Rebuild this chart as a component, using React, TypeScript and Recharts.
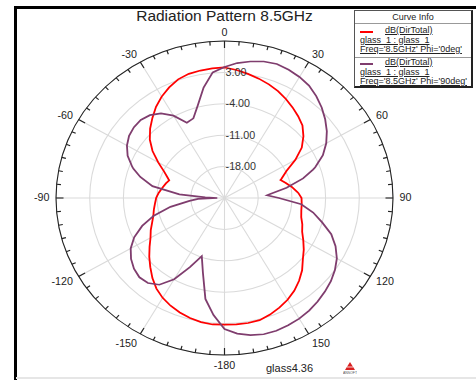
import React from "react";
import { PolarAngleAxis, PolarGrid, PolarRadiusAxis, Radar, RadarChart } from "recharts";

// angles in degrees, clockwise from the top (Theta)
const ANGLES = [
  0, 5, 10, 15, 20, 25, 30, 35, 40, 45, 50, 55, 60, 65, 70, 71, 75, 80, 85, 86,
  90, 95, 100, 105, 110, 115, 120, 125, 130, 135, 140, 145, 150, 155, 160, 165, 170, 175,
  180, 185, 190, 195, 200, 205, 210, 215, 220, 225, 230, 235, 240, 245, 250, 255, 260, 265,
  268, 270, 272, 275, 280, 285, 289, 290, 295, 300, 305, 310, 315, 320, 325, 330, 335, 340,
  345, 350, 355,
];

// dB(DirTotal), Phi = 0deg
const PHI_0 = [
  4.1, 3.65, 3.1, 2.55, 1.95, 1.3, 0.5, -0.35, -1.2, -2.1, -3.6, -5.4, -8.0, -10.8, -12.4, -12.7, -11.9, -10.8, -9.8, -9.6,
  -9.0, -8.9, -8.8, -8.5, -7.8, -7.2, -6.1, -4.9, -3.75, -2.2, -0.9, 0.25, 1.2, 1.95, 2.65, 3.2, 3.3, 3.3,
  3.25, 3.3, 3.1, 2.7, 2.15, 1.5, 0.7, -0.35, -1.7, -3.2, -4.6, -6.0, -7.25, -8.1, -9.0, -9.7, -10.1, -10.5,
  -10.7, -10.8, -11.0, -11.3, -11.9, -12.4, -12.85, -12.6, -11.2, -9.1, -6.75, -4.75, -3.15, -1.7, -0.2, 1.1, 2.2, 3.15,
  3.65, 3.85, 4.0,
];

// dB(DirTotal), Phi = 90deg
const PHI_90 = [
  4.2, 5.2, 5.9, 6.5, 6.8, 6.55, 6.15, 5.6, 4.65, 3.55, 2.3, 0.95, -0.6, -2.45, -4.95, -5.55, -8.1, -11.9, -15.6, -16.1,
  -13.7, -9.0, -6.3, -4.0, -1.4, 0.45, 1.95, 3.0, 3.85, 4.5, 5.1, 5.65, 6.05, 6.3, 6.5, 6.45, 6.05, 5.35,
  4.2, 1.2, -2.15, -7.7, -11.2, -8.0, -4.1, -1.4, -0.25, 0.0, -0.45, -1.3, -2.5, -4.3, -6.8, -9.8, -13.6, -17.7,
  -19.5, -23.5, -21.0, -15.6, -9.8, -6.9, -5.0, -4.6, -2.8, -1.6, -0.8, -0.45, -0.4, -0.9, -2.0, -3.8, -6.5, -6.1,
  -3.6, 0.0, 3.1,
];

const MAJOR_ANGLES = [0, 30, 60, 90, 120, 150, 180, 210, 240, 270, 300, 330];
const RING_TICKS = [-18, -11, -4, 3];
const R_DOMAIN = [-25, 10];

const CX = 224.5;
const CY = 198;
const R = 157;
const STRETCH = 1.0732;
const FONT = '"Liberation Sans", Arial, Helvetica, sans-serif';

const minorTicks = Array.from({ length: 72 }, (_, i) => i * 5);
const angleLabel = (v: number) => (v >= 180 ? v - 360 : v);

function AngleTick(props: any) {
  const v = props.payload.value;
  const rad = (v * Math.PI) / 180;
  const s = Math.sin(rad);
  const c = Math.cos(rad);
  const major = MAJOR_ANGLES.includes(v);
  const len = major ? 7 : 4;
  let label = null;
  if (major) {
    const lr = R + 6;
    const lx = CX + lr * s;
    const ly = CY - lr * c + (c > 0 ? -2 * c : -5 * c);
    const anchor = s > 0.1 ? "start" : s < -0.1 ? "end" : "middle";
    label = (
      <text x={lx} y={ly} textAnchor={anchor} dominantBaseline="central" fontSize={10} fill="#222" fontFamily={FONT}>
        {angleLabel(v)}
      </text>
    );
  }
  return (
    <g>
      <path
        d={`M${CX + R * s},${CY - R * c}L${CX + (R - len) * s},${CY - (R - len) * c}`}
        stroke="#222"
        strokeWidth={1.1}
        fill="none"
      />
      {label}
    </g>
  );
}

function RingTick(props: any) {
  const { x, y, payload } = props;
  return (
    <text x={x + 1} y={y} textAnchor="start" dominantBaseline="central" fontSize={10} fill="#333" fontFamily={FONT}>
      {Number(payload.value).toFixed(2)}
    </text>
  );
}

function LegendRow({ top, color, phi }: { top: number; color: string; phi: string }) {
  const txt: React.CSSProperties = {
    position: "absolute",
    fontSize: 9,
    lineHeight: "9px",
    height: 9,
    color: "#222",
    textDecoration: "underline",
    whiteSpace: "nowrap",
  };
  return (
    <>
      <div style={{ position: "absolute", left: 5, top: top + 5, width: 13, height: 1.5, background: color }} />
      <div style={{ ...txt, left: 30, top }}>dB(DirTotal)</div>
      <div style={{ ...txt, left: 5, top: top + 9.5 }}>glass_1 : glass_1</div>
      <div style={{ ...txt, left: 5, top: top + 19 }}>Freq='8.5GHz' Phi='{phi}'</div>
    </>
  );
}

export default function App() {
  const data = ANGLES.map((a, i) => ({ angle: a, phi0: PHI_0[i], phi90: PHI_90[i] }));
  const ringRadii = [1, 2, 3, 4, 5].map((k) => (R * k) / 5);
  const gridAngles = MAJOR_ANGLES.map((a) => 90 - a);

  return (
    <div
      style={{
        position: "absolute",
        left: 0,
        top: 0,
        width: 476,
        height: 380,
        background: "#fff",
        overflow: "hidden",
        fontFamily: FONT,
      }}
    >
      {/* frame */}
      <div style={{ position: "absolute", left: 14, top: 6, width: 462, height: 2.5, background: "#000" }} />
      <div style={{ position: "absolute", left: 14, top: 6, width: 2.5, height: 374, background: "#000" }} />
      <div style={{ position: "absolute", left: 16, top: 377, width: 460, height: 2, background: "#e6e6e6" }} />

      <div
        style={{
          position: "absolute",
          left: 0,
          top: 0,
          width: 476,
          height: 380,
          transform: `scaleX(${STRETCH})`,
          transformOrigin: `${CX}px ${CY}px`,
        }}
      >
        <RadarChart
          width={476}
          height={380}
          data={data}
          cx={CX}
          cy={CY}
          innerRadius={0}
          outerRadius={R}
          startAngle={90}
          endAngle={-270}
          margin={{ top: 0, right: 0, bottom: 0, left: 0 }}
        >
          <PolarGrid gridType="circle" stroke="#dadada" polarAngles={gridAngles} polarRadius={ringRadii} />
          <PolarAngleAxis
            dataKey="angle"
            type="number"
            domain={[0, 360]}
            ticks={minorTicks}
            axisLine={{ stroke: "#222", strokeWidth: 1 }}
            axisLineType="circle"
            tickLine={false}
            tick={<AngleTick />}
          />
          <PolarRadiusAxis
            angle={90}
            type="number"
            domain={R_DOMAIN}
            allowDataOverflow
            ticks={RING_TICKS}
            axisLine={false}
            tickLine={false}
            tick={<RingTick />}
          />
          <Radar
            dataKey="phi0"
            stroke="#ff0000"
            strokeWidth={1.7}
            fill="none"
            fillOpacity={0}
            dot={false}
            isAnimationActive={false}
          />
          <Radar
            dataKey="phi90"
            stroke="#7f3d6e"
            strokeWidth={1.7}
            fill="none"
            fillOpacity={0}
            dot={false}
            isAnimationActive={false}
          />
        </RadarChart>
      </div>

      {/* title */}
      <div
        style={{
          position: "absolute",
          left: 0,
          width: 449,
          top: 7,
          textAlign: "center",
          fontSize: 15.5,
          color: "#222",
          lineHeight: "18px",
        }}
      >
        Radiation Pattern 8.5GHz
      </div>

      {/* curve info */}
      <div
        style={{
          position: "absolute",
          left: 354,
          top: 10,
          width: 116,
          height: 75,
          background: "#fff",
          border: "1px solid #555",
          borderRightWidth: 2,
          borderBottomWidth: 2,
          borderRightColor: "#222",
          borderBottomColor: "#222",
        }}
      >
        <div
          style={{
            position: "absolute",
            left: 0,
            width: 116,
            top: 1,
            height: 10,
            lineHeight: "10px",
            textAlign: "center",
            fontSize: 9,
            color: "#222",
          }}
        >
          Curve Info
        </div>
        <div style={{ position: "absolute", left: 0, top: 12, width: 116, height: 1, background: "#999" }} />
        <LegendRow top={15} color="#ff0000" phi="0deg" />
        <div style={{ position: "absolute", left: 0, top: 45.5, width: 116, height: 1, background: "#999" }} />
        <LegendRow top={47} color="#7f3d6e" phi="90deg" />
      </div>

      {/* footer */}
      <div style={{ position: "absolute", left: 266, top: 362, fontSize: 11, color: "#222", lineHeight: "13px" }}>glass4.36</div>
      <svg style={{ position: "absolute", left: 343, top: 362 }} width={14} height={12}>
        <polygon points="7,0 12,8 2,8" fill="#d92020" />
        <line x1={4} y1={5} x2={10} y2={5} stroke="#fff" strokeWidth={0.8} />
        <text x={7} y={11.5} textAnchor="middle" fontSize={3.5} fill="#555" fontFamily={FONT}>
          ANSOFT
        </text>
      </svg>
    </div>
  );
}
